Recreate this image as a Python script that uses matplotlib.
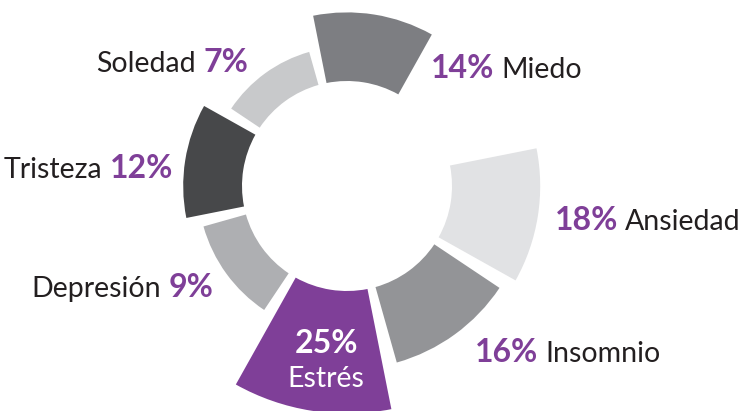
import numpy as np
from matplotlib import pyplot as plt

# Data
labels = ["Miedo", "Ansiedad", "Insomnio", "Estrés", "Depresión", "Tristeza", "Soledad"]
values = [14, 18, 16, 25, 9, 12, 7]
colors = ["#7d7e82", "#e1e2e4", "#939497", "#7f3f98", "#aeafb2", "#47484a", "#c8c9cb"]

W, H = 742, 411
PURPLE = "#7f3f98"
DARK = "#231f20"
plt.rcParams['font.family'] = ['Lato', 'DejaVu Sans']

fig = plt.figure(figsize=(W / 100, H / 100), dpi=100)

# donut centre and radii in pixels
cx, cy = 347, 186
R = 240
inner = 105
scale = 4.9  # pixels per percentage point

ax = fig.add_axes([(cx - R) / W, (H - cy - R) / H, 2 * R / W, 2 * R / H],
                  projection='polar')
ax.set_ylim(0, R)
ax.axis('off')

# 8 slots of 45 degrees, the one after "Miedo" is left empty
slots = [0, 2, 3, 4, 5, 6, 7]
theta = np.deg2rad([81 - 45 * s for s in slots])
ax.bar(theta, [v * scale for v in values], width=np.deg2rad(40.5), bottom=inner,
       color=colors, linewidth=0, clip_on=False)

renderer = fig.canvas.get_renderer()


def px_text(x, y, s, **kw):
    return fig.text(x / W, 1 - y / H, s, va='baseline', **kw)


def width_px(t):
    return t.get_window_extent(renderer).width


NAME_SIZE = 20.5
PCT_SIZE = 23
GAP = 7


# right side labels: "NN% Name", left edge at x
def right_label(x, y, name, val):
    t = px_text(x, y, f"{val}%", color=PURPLE, fontsize=PCT_SIZE, fontweight='bold')
    px_text(x + width_px(t) + GAP, y, name, color=DARK, fontsize=NAME_SIZE)


# left side labels: "Name NN%", right edge at x
def left_label(x, y, name, val):
    t = px_text(x, y, f"{val}%", color=PURPLE, fontsize=PCT_SIZE, fontweight='bold', ha='right')
    px_text(x - width_px(t) - GAP, y, name, color=DARK, fontsize=NAME_SIZE, ha='right')


right_label(431, 78, labels[0], values[0])
right_label(555, 230, labels[1], values[1])
right_label(475, 362, labels[2], values[2])
left_label(213, 297, labels[4], values[4])
left_label(173, 178, labels[5], values[5])
left_label(248, 72, labels[6], values[6])

# label inside the highlighted segment
px_text(326, 353, f"{values[3]}%", color='white', fontsize=PCT_SIZE, fontweight='bold', ha='center')
px_text(326, 387, labels[3], color='white', fontsize=NAME_SIZE, ha='center')

fig.savefig("out.png", dpi=100)
